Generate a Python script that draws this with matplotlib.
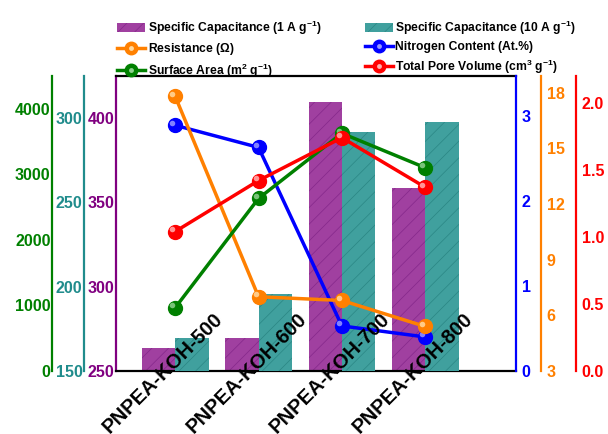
import numpy as np
import matplotlib
matplotlib.use("Agg")
import matplotlib.pyplot as plt
from matplotlib.transforms import ScaledTranslation
from matplotlib.patches import Patch
from matplotlib.lines import Line2D
from matplotlib.legend_handler import HandlerTuple

plt.rcParams['font.family'] = ['Liberation Sans', 'DejaVu Sans']
plt.rcParams['font.weight'] = 'bold'
plt.rcParams['mathtext.fontset'] = 'custom'
plt.rcParams['mathtext.rm'] = 'Liberation Sans:bold'
plt.rcParams['mathtext.bf'] = 'Liberation Sans:bold'
plt.rcParams['mathtext.default'] = 'bf'
plt.rcParams['hatch.linewidth'] = 0.5

# --- datos ---
muestras = ['PNPEA-KOH-500', 'PNPEA-KOH-600', 'PNPEA-KOH-700', 'PNPEA-KOH-800']
cap_1A = [263.8, 269.7, 409.3, 358.3]        # F/g a 1 A/g
cap_10A = [169.7, 195.6, 291.9, 297.8]       # F/g a 10 A/g
area_sup = [965, 2632, 3626, 3101]           # m2/g
nitrogeno = [2.89, 2.63, 0.53, 0.40]         # At.%
resistencia = [17.8, 7.0, 6.8, 5.4]          # ohm
vol_poro = [1.04, 1.42, 1.74, 1.37]          # cm3/g

c_morado = '#800080'
c_teal = '#208C8C'
c_verde = '#008000'
c_azul = '#0000FF'
c_naranja = '#FF8000'
c_rojo = '#FF0000'

x = np.arange(len(muestras))
ancho = 0.4

fig = plt.figure(figsize=(6.08, 4.34), dpi=100)
ax = fig.add_axes([0.1908, 0.1452, 0.658, 0.6797])

ax_teal = ax.twinx()
ax_azul = ax.twinx()
ax_naranja = ax.twinx()
ax_verde = ax.twinx()
ax_rojo = ax.twinx()

# barras
ax.bar(x - ancho / 2, cap_1A, ancho, color='#A040A0', edgecolor='#84288A',
       hatch='//', linewidth=0)
ax_teal.bar(x + ancho / 2, cap_10A, ancho, color='#40A09E', edgecolor='#2A8684',
            hatch='//', linewidth=0)


def linea_bola(eje, y, color, brillo):
    eje.plot(x, y, color=color, lw=2.5, marker='o', ms=10, mfc=color, mec=color)
    desplaz = ScaledTranslation(-2 / 72, 2 / 72, fig.dpi_scale_trans)
    eje.plot(x, y, ls='none', marker='o', ms=4, mfc=brillo, mec='none',
             alpha=0.85, transform=eje.transData + desplaz)


linea_bola(ax_azul, nitrogeno, c_azul, '#9999FF')
linea_bola(ax_naranja, resistencia, c_naranja, '#FFD9A0')
linea_bola(ax_verde, area_sup, c_verde, '#8FD08F')
linea_bola(ax_rojo, vol_poro, c_rojo, '#FFB0B0')

ax.set_xlim(-0.71, 4.09)
ax.set_ylim(250, 425)
ax_teal.set_ylim(150, 325)
ax_verde.set_ylim(0, 4500)
ax_azul.set_ylim(0, 3.47)
ax_naranja.set_ylim(3, 18.9)
ax_rojo.set_ylim(0, 2.2)

ax.set_yticks([250, 300, 350, 400])
ax_teal.set_yticks([150, 200, 250, 300])
ax_verde.set_yticks([0, 1000, 2000, 3000, 4000])
ax_azul.set_yticks([0, 1, 2, 3])
ax_naranja.set_yticks([3, 6, 9, 12, 15, 18])
ax_rojo.set_yticks([0.0, 0.5, 1.0, 1.5, 2.0])
ax_rojo.set_yticklabels(['0.0', '0.5', '1.0', '1.5', '2.0'])

# ejes secundarios
for eje in [ax_teal, ax_azul, ax_naranja, ax_verde, ax_rojo]:
    for s in ['top', 'bottom', 'left', 'right']:
        eje.spines[s].set_visible(False)

config = [
    (ax, 'left', 0.0, c_morado),
    (ax_teal, 'left', -0.08, c_teal),
    (ax_verde, 'left', -0.16, c_verde),
    (ax_azul, 'right', 1.0, c_azul),
    (ax_naranja, 'right', 1.0625, c_naranja),
    (ax_rojo, 'right', 1.15, c_rojo),
]
for eje, lado, pos, color in config:
    sp = eje.spines[lado]
    sp.set_visible(True)
    sp.set_position(('axes', pos))
    sp.set_color(color)
    sp.set_linewidth(1.6)
    if lado == 'left':
        eje.yaxis.tick_left()
        pad = 1
    else:
        eje.yaxis.tick_right()
        pad = 4
    eje.tick_params(axis='y', colors=color, length=0, pad=pad, labelsize=11.5)

ax.spines['right'].set_visible(False)
ax.spines['top'].set_linewidth(1.6)
ax.spines['bottom'].set_linewidth(1.6)
ax.tick_params(axis='x', length=0, labelbottom=False)

# etiquetas x encima de todo
ax_rojo.xaxis.set_visible(True)
ax_rojo.set_xticks(x)
ax_rojo.set_xticklabels(muestras, rotation=45, ha='center', va='center',
                        fontsize=14.5, fontweight='bold')
ax_rojo.tick_params(axis='x', length=0, pad=0, top=False, bottom=True,
                    labelbottom=True, labeltop=False)
corr = ScaledTranslation(-0.12, -0.02, fig.dpi_scale_trans)
for lab in ax_rojo.get_xticklabels():
    lab.set_transform(lab.get_transform() + corr)


# leyenda
def bola(color, brillo):
    return (Line2D([], [], color=color, lw=2.5, marker='o', ms=9),
            Line2D([], [], ls='none', marker='o', ms=3.5, mfc=brillo, mec='none'))


manejadores = [
    Patch(facecolor='#A040A0', edgecolor='#84288A', hatch='//', linewidth=0),
    bola(c_naranja, '#FFD9A0'),
    bola(c_verde, '#8FD08F'),
    Patch(facecolor='#40A09E', edgecolor='#2A8684', hatch='//', linewidth=0),
    bola(c_azul, '#9999FF'),
    bola(c_rojo, '#FFB0B0'),
]
etiquetas = [
    r'Specific Capacitance (1 A g$^{-1}$)',
    r'Resistance ($\Omega$)',
    r'Surface Area (m$^{2}$ g$^{-1}$)',
    r'Specific Capacitance (10 A g$^{-1}$)',
    'Nitrogen Content (At.%)',
    r'Total Pore Volume (cm$^{3}$ g$^{-1}$)',
]
fig.legend(manejadores, etiquetas, ncol=2, loc='upper left',
           bbox_to_anchor=(0.185, 0.968), frameon=False,
           prop={'weight': 'bold', 'size': 8.7}, handlelength=2.3,
           handletextpad=0.2, labelspacing=0.35, columnspacing=3.6,
           borderaxespad=0,
           handler_map={tuple: HandlerTuple(ndivide=1, pad=0)})

fig.savefig('out.png', dpi=100)
